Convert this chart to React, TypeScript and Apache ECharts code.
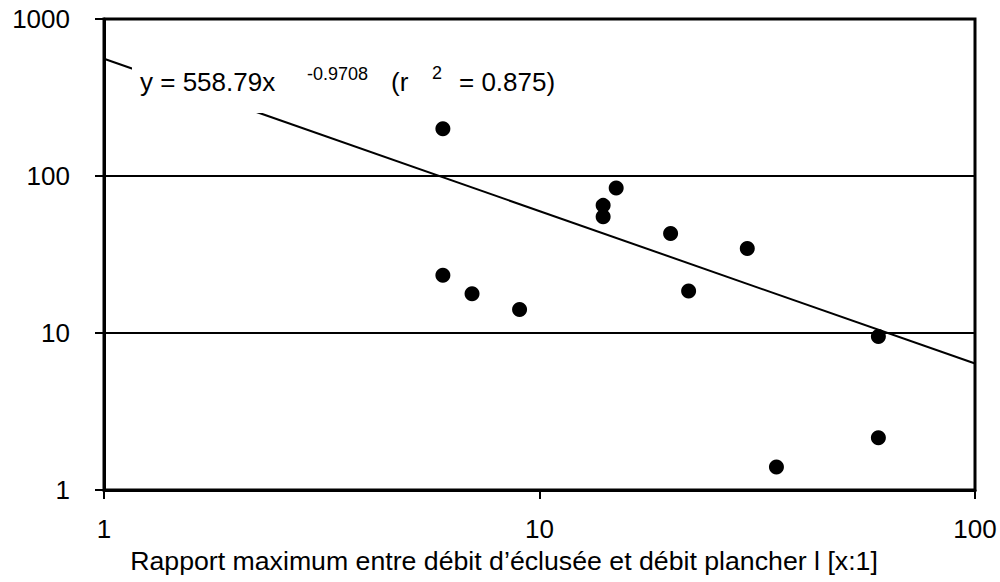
import React, { useEffect, useRef } from "react";
import * as echarts from "echarts";

// Data
const ratio = [6, 6, 7, 9, 14, 14, 15, 20, 22, 30, 35, 60, 60];
const values = [200, 23.3, 17.8, 14.1, 65, 55, 84, 43, 18.5, 34.5, 1.4, 9.5, 2.15];
const trendX = [1, 100];
const trendY = [558.79, 6.39];
const xTitle = "Rapport maximum entre débit d’éclusée et débit plancher l [x:1]";
const eqMain = "y = 558.79x";
const eqExp = "-0.9708";
const eqR = "(r";
const eqR2 = "2";
const eqVal = "= 0.875)";

const FONT = "'Liberation Sans', Arial, sans-serif";

export default function App() {
  const ref = useRef<HTMLDivElement>(null);
  useEffect(() => {
    if (!ref.current) return;
    const chart = echarts.init(ref.current, null, { renderer: "svg" });
    const scatterData = ratio.map((x, i) => [x, values[i]]);
    const trendData = trendX.map((x, i) => [x, trendY[i]]);
    const txt = (text: string, x: number, y: number, size: number, extra: any = {}) => ({
      type: "text",
      x,
      y,
      z: 11,
      style: { text, fontSize: size, fontFamily: FONT, fill: "#000", verticalAlign: "middle", ...extra },
    });
    chart.setOption({
      animation: false,
      backgroundColor: "#fff",
      grid: {
        left: 104,
        right: 25,
        top: 19,
        bottom: 92,
        show: true,
        borderColor: "#000",
        borderWidth: 3,
      },
      xAxis: {
        type: "log",
        logBase: 10,
        min: 1,
        max: 100,
        axisLine: { show: true, lineStyle: { color: "#000", width: 3 } },
        axisTick: { show: true, length: 9, lineStyle: { color: "#000", width: 2 } },
        axisLabel: {
          color: "#000",
          fontSize: 26,
          fontFamily: FONT,
          margin: 26,
          formatter: (v: number) => String(v),
        },
        splitLine: { show: false },
        minorTick: { show: false },
      },
      yAxis: {
        type: "log",
        logBase: 10,
        min: 1,
        max: 1000,
        axisLine: { show: true, lineStyle: { color: "#000", width: 3 } },
        axisTick: { show: true, length: 9, lineStyle: { color: "#000", width: 2 } },
        axisLabel: {
          color: "#000",
          fontSize: 26,
          fontFamily: FONT,
          margin: 34,
          padding: [5, 0, 0, 0],
          formatter: (v: number) => String(v),
        },
        splitLine: { show: true, lineStyle: { color: "#000", width: 2 } },
        minorTick: { show: false },
      },
      series: [
        {
          type: "line",
          data: trendData,
          symbol: "none",
          lineStyle: { color: "#000", width: 2 },
          z: 2,
        },
        {
          type: "scatter",
          data: scatterData,
          symbol: "circle",
          symbolSize: 15,
          itemStyle: { color: "#000", opacity: 1 },
          z: 3,
        },
      ],
      graphic: [
        {
          type: "rect",
          shape: { x: 132, y: 58, width: 432, height: 55 },
          style: { fill: "#fff" },
          z: 10,
        },
        txt(eqMain, 140, 82, 26),
        txt(eqExp, 307, 74, 18),
        txt(eqR, 391, 82, 26),
        txt(eqR2, 432, 73, 18),
        txt(eqVal, 459, 82, 26),
        txt(xTitle, 504, 561, 26.7, { align: "center" }),
      ],
    });
    return () => chart.dispose();
  }, []);
  return <div ref={ref} style={{ width: 1000, height: 582, position: "absolute", left: 0, top: 0 }} />;
}
